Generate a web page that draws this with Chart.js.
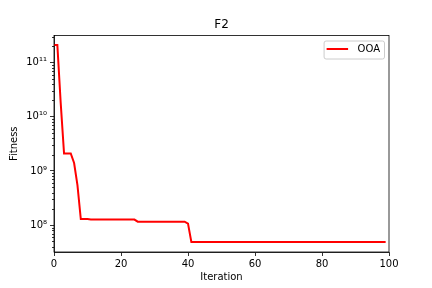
<!DOCTYPE html>
<html lang="en">
<head>
    <meta charset="UTF-8">
    <title>F2</title>
    <script src="https://cdn.jsdelivr.net/npm/chart.js"></script>
    <style>
        body { margin: 0; background: #fff; }
    </style>
</head>
<body>
    <canvas id="chart" width="432" height="288"></canvas>

    <script>
        const chartTitle = 'F2';
        const seriesName = 'OOA';
        const xTicks = [0, 20, 40, 60, 80, 100];
        const yTicks = [1e8, 1e9, 1e10, 1e11];

        // best fitness per iteration
        const fitness = [
            2.1e11, 2.1e11, 1.8e10, 2.1e9, 2.1e9, 2.1e9, 1.4e9, 5.5e8, 1.3e8, 1.3e8,
            1.3e8, 1.27e8, 1.27e8, 1.27e8, 1.27e8, 1.27e8, 1.27e8, 1.27e8, 1.27e8, 1.27e8,
            1.27e8, 1.27e8, 1.27e8, 1.27e8, 1.27e8, 1.16e8, 1.16e8, 1.16e8, 1.16e8, 1.16e8,
            1.16e8, 1.16e8, 1.16e8, 1.16e8, 1.16e8, 1.16e8, 1.16e8, 1.16e8, 1.16e8, 1.16e8,
            1.07e8, 4.9e7, 4.9e7, 4.9e7, 4.9e7, 4.9e7, 4.9e7, 4.9e7, 4.9e7, 4.9e7,
            4.9e7, 4.9e7, 4.9e7, 4.9e7, 4.9e7, 4.9e7, 4.9e7, 4.9e7, 4.9e7, 4.9e7,
            4.9e7, 4.9e7, 4.9e7, 4.9e7, 4.9e7, 4.9e7, 4.9e7, 4.9e7, 4.9e7, 4.9e7,
            4.9e7, 4.9e7, 4.9e7, 4.9e7, 4.9e7, 4.9e7, 4.9e7, 4.9e7, 4.9e7, 4.9e7,
            4.9e7, 4.9e7, 4.9e7, 4.9e7, 4.9e7, 4.9e7, 4.9e7, 4.9e7, 4.9e7, 4.9e7,
            4.9e7, 4.9e7, 4.9e7, 4.9e7, 4.9e7, 4.9e7, 4.9e7, 4.9e7, 4.9e7, 4.9e7
        ];
        const iterations = fitness.map((_, i) => i);

        const FONT = '"DejaVu Sans", sans-serif';
        const SUP = '⁰¹²³⁴⁵⁶⁷⁸⁹';
        const sup = n => String(n).split('').map(d => SUP[+d]).join('');

        // frame, minor log ticks, title and legend drawn like matplotlib
        const decorations = {
            id: 'decorations',
            afterDraw(chart) {
                const { ctx, chartArea: a, scales: { y } } = chart;
                ctx.save();
                ctx.strokeStyle = '#000';
                ctx.lineWidth = 0.8;
                ctx.strokeRect(a.left, a.top, a.right - a.left, a.bottom - a.top);

                ctx.beginPath();
                for (let n = 6; n <= 12; n++) {
                    for (let k = 2; k <= 9; k++) {
                        const v = k * Math.pow(10, n);
                        if (v < y.min || v > y.max) continue;
                        const py = Math.round(y.getPixelForValue(v)) + 0.5;
                        ctx.moveTo(a.left - 2, py);
                        ctx.lineTo(a.left, py);
                    }
                }
                ctx.stroke();

                ctx.fillStyle = '#000';
                ctx.font = '12px ' + FONT;
                ctx.textAlign = 'center';
                ctx.textBaseline = 'middle';
                ctx.fillText(chartTitle, (a.left + a.right) / 2, a.top - 10.5);

                // legend box in upper right
                const ds = chart.data.datasets[0];
                ctx.font = '10px ' + FONT;
                const tw = ctx.measureText(ds.label).width;
                const w = 33 + tw + 5, h = 18;
                const bx = a.right - 5 - w, by = a.top + 5;
                ctx.fillStyle = 'rgba(255,255,255,0.8)';
                ctx.strokeStyle = '#ccc';
                ctx.lineWidth = 1;
                ctx.beginPath();
                ctx.roundRect(bx + 0.5, by + 0.5, w, h, 2);
                ctx.fill();
                ctx.stroke();
                ctx.strokeStyle = ds.borderColor;
                ctx.lineWidth = ds.borderWidth;
                ctx.beginPath();
                ctx.moveTo(bx + 3, by + 8.5);
                ctx.lineTo(bx + 24.5, by + 8.5);
                ctx.stroke();
                ctx.fillStyle = '#000';
                ctx.textAlign = 'left';
                ctx.fillText(ds.label, bx + 34, by + 9);
                ctx.restore();
            }
        };

        new Chart(document.getElementById('chart'), {
            type: 'line',
            data: {
                labels: iterations,
                datasets: [{
                    label: seriesName,
                    data: fitness,
                    borderColor: '#ff0000',
                    borderWidth: 2,
                    pointRadius: 0,
                    tension: 0,
                    fill: false
                }]
            },
            options: {
                responsive: false,
                animation: false,
                layout: { padding: { left: 0, right: 43, top: 35.5, bottom: 0 } },
                plugins: {
                    legend: { display: false },
                    title: { display: false },
                    tooltip: { enabled: false }
                },
                scales: {
                    x: {
                        type: 'linear',
                        min: 0,
                        max: 100,
                        afterBuildTicks: s => { s.ticks = xTicks.map(v => ({ value: v })); },
                        afterFit: s => { s.height = 36; },
                        ticks: { color: '#000', font: { family: FONT, size: 10 }, padding: 2, maxRotation: 0 },
                        grid: { drawOnChartArea: false, tickLength: 4, color: '#000', lineWidth: 0.8 },
                        border: { color: '#000', width: 0.8 },
                        title: { display: true, text: 'Iteration', color: '#000', font: { family: FONT, size: 10 }, padding: { top: 0, bottom: 5 } }
                    },
                    y: {
                        type: 'logarithmic',
                        min: 3.2e7,
                        max: 3.15e11,
                        afterBuildTicks: s => { s.ticks = yTicks.map(v => ({ value: v })); },
                        afterFit: s => { s.width = 54; },
                        ticks: {
                            color: '#000',
                            font: { family: FONT, size: 10 },
                            padding: 3,
                            callback: v => '10' + sup(Math.round(Math.log10(v)))
                        },
                        grid: { drawOnChartArea: false, tickLength: 4, color: '#000', lineWidth: 0.8 },
                        border: { color: '#000', width: 0.8 },
                        title: { display: true, text: 'Fitness', color: '#000', font: { family: FONT, size: 10 }, padding: { top: 8, bottom: 0 } }
                    }
                }
            },
            plugins: [decorations]
        });
    </script>
</body>
</html>
